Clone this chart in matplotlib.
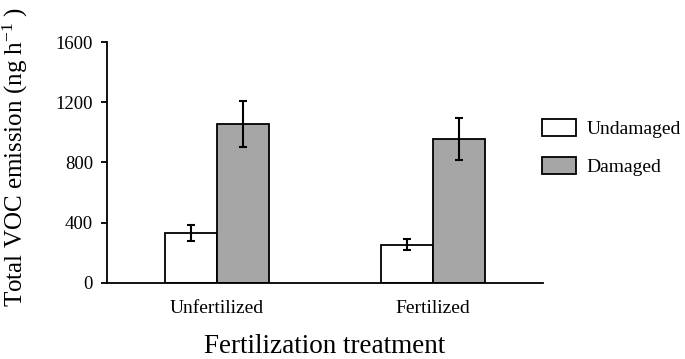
import matplotlib.pyplot as plt
import numpy as np

plt.rcParams.update({
    "font.family": ["Liberation Serif", "DejaVu Serif"],
    "mathtext.fontset": "custom",
    "mathtext.rm": "Liberation Serif",
    "mathtext.default": "regular",
})

categories = ["Unfertilized", "Fertilized"]
series = ["Undamaged", "Damaged"]
undamaged = [332, 255]
undamaged_err = [52, 37]
damaged = [1058, 956]
damaged_err = [153, 138]
colors = ["white", "#a6a6a6"]
yticks = [0, 400, 800, 1200, 1600]

fig = plt.figure(figsize=(6.85, 3.59), dpi=100)
ax = fig.add_axes([0.156, 0.212, 0.637, 0.671])

x = np.arange(len(categories))
w = 0.24
err_kw = dict(ecolor="black", elinewidth=1.5, capsize=3, capthick=1.5)
ax.bar(x - w / 2, undamaged, w, yerr=undamaged_err, color=colors[0],
       edgecolor="black", linewidth=1.3, label=series[0], error_kw=err_kw)
ax.bar(x + w / 2, damaged, w, yerr=damaged_err, color=colors[1],
       edgecolor="black", linewidth=1.3, label=series[1], error_kw=err_kw)

ax.set_xlim(-0.51, 1.51)
ax.set_ylim(0, 1600)
ax.set_yticks(yticks)
ax.set_xticks(x)
ax.set_xticklabels(categories, fontsize=14)
ax.tick_params(axis="x", length=0, pad=12)
ax.tick_params(axis="y", labelsize=13.5, width=1.3, length=4, pad=6)
for s in ["top", "right"]:
    ax.spines[s].set_visible(False)
for s in ["left", "bottom"]:
    ax.spines[s].set_linewidth(1.3)

ax.set_ylabel(r"Total VOC emission (ng h$^{-1}$ )", fontsize=18)
ax.yaxis.set_label_coords(-0.175, 0.525)
ax.set_xlabel("Fertilization treatment", fontsize=19.5)
ax.xaxis.set_label_coords(0.5, -0.212)

fig.legend(loc="upper left", bbox_to_anchor=(0.765, 0.718), frameon=False,
           fontsize=14, handlelength=1.75, handleheight=1.0,
           labelspacing=0.95, handletextpad=0.55)

fig.savefig("out.png", dpi=100)
